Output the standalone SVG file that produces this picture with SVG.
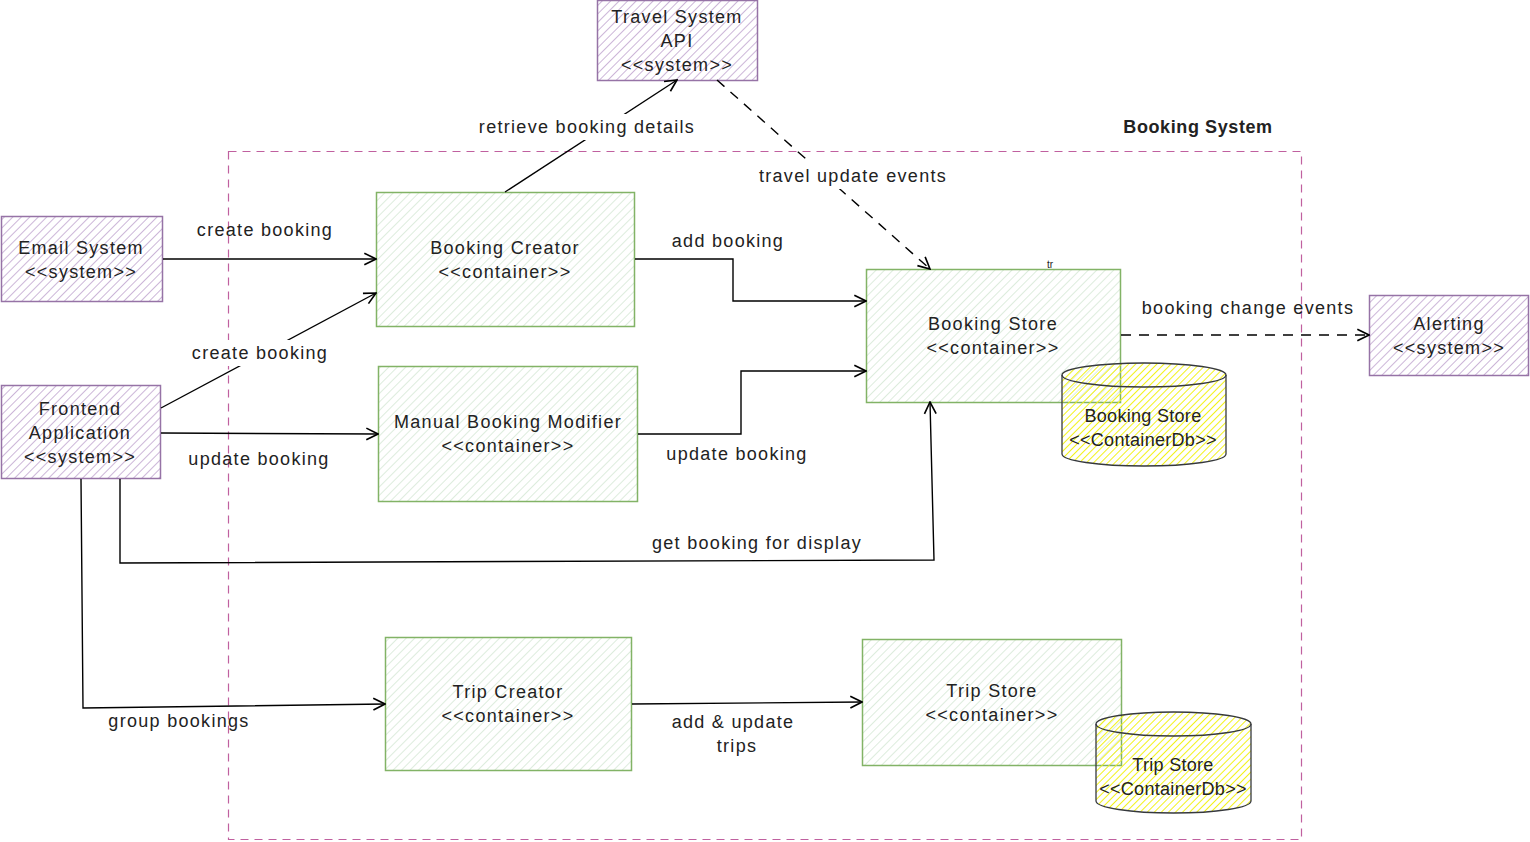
<svg xmlns="http://www.w3.org/2000/svg" width="1530" height="842" viewBox="0 0 1530 842">
<defs>
<pattern id="hp" width="6" height="6" patternUnits="userSpaceOnUse" patternTransform="rotate(45)"><line x1="0" y1="0" x2="0" y2="6" stroke="#c6aed4" stroke-width="1.8"/></pattern>
<pattern id="hg" width="6" height="6" patternUnits="userSpaceOnUse" patternTransform="rotate(45)"><line x1="0" y1="0" x2="0" y2="6" stroke="#d5e8d4" stroke-width="1.6"/></pattern>
<pattern id="hy" width="5" height="5" patternUnits="userSpaceOnUse" patternTransform="rotate(45)"><line x1="0" y1="0" x2="0" y2="5" stroke="#f2f21a" stroke-width="2"/></pattern>
<marker id="ah" viewBox="0 0 12 12" refX="11" refY="6" markerWidth="14" markerHeight="14" markerUnits="userSpaceOnUse" orient="auto"><path d="M1,1 L11,6 L1,11" fill="none" stroke="#000" stroke-width="1.4"/></marker>
</defs>
<style>
text{font-family:"Liberation Sans",Arial,sans-serif;font-size:18px;letter-spacing:1.3px;fill:#222;text-anchor:middle}
.sys rect{fill:url(#hp);stroke:#9673a6;stroke-width:1.5}
.cont rect{fill:url(#hg);stroke:#82b366;stroke-width:1.5}
.db path{fill:url(#hy);stroke:#36393d;stroke-width:1.3}
.db path.top{fill:none}
.db text{letter-spacing:0.3px}
.c{fill:none;stroke:#000;stroke-width:1.4;marker-end:url(#ah)}
.d{stroke-dasharray:10 8}
.bg{fill:#fff}
</style>
<rect x="0" y="0" width="1530" height="842" fill="#fff"/>

<g id="boundary">
<rect x="228.5" y="151.5" width="1073" height="688" fill="none" stroke="#c0609f" stroke-width="1.2" stroke-dasharray="8 6"/>
<text x="1198" y="133" style="font-weight:bold;letter-spacing:0.6px">Booking System</text>
</g>

<g id="travel-api" class="sys"><rect x="597.5" y="0.5" width="160" height="80"/>
<text x="677" y="23">Travel System</text><text x="677" y="47">API</text><text x="677" y="71">&lt;&lt;system&gt;&gt;</text></g>

<g id="email-system" class="sys"><rect x="1.5" y="216.5" width="161" height="85"/>
<text x="81" y="254">Email System</text><text x="81" y="278">&lt;&lt;system&gt;&gt;</text></g>

<g id="frontend-app" class="sys"><rect x="1.5" y="385.5" width="159" height="93"/>
<text x="80" y="415">Frontend</text><text x="80" y="439">Application</text><text x="80" y="463">&lt;&lt;system&gt;&gt;</text></g>

<g id="alerting" class="sys"><rect x="1369.5" y="295.5" width="159" height="80"/>
<text x="1449" y="330">Alerting</text><text x="1449" y="354">&lt;&lt;system&gt;&gt;</text></g>

<g id="booking-creator" class="cont"><rect x="376.5" y="192.5" width="258" height="134"/>
<text x="505" y="254">Booking Creator</text><text x="505" y="278">&lt;&lt;container&gt;&gt;</text></g>

<g id="manual-modifier" class="cont"><rect x="378.5" y="366.5" width="259" height="135"/>
<text x="508" y="428">Manual Booking Modifier</text><text x="508" y="452">&lt;&lt;container&gt;&gt;</text></g>

<g id="booking-store" class="cont"><rect x="866.5" y="269.5" width="254" height="133"/>
<text x="993" y="330">Booking Store</text><text x="993" y="354">&lt;&lt;container&gt;&gt;</text>
<text x="1050" y="268" style="font-size:10px;letter-spacing:0">tr</text></g>

<g id="booking-store-db" class="db">
<path d="M1062,375 A82,12 0 0,1 1226,375 L1226,454 A82,12 0 0,1 1062,454 Z"/>
<path class="top" d="M1062,375 A82,12 0 0,0 1226,375"/>
<text x="1143" y="422">Booking Store</text><text x="1143" y="446">&lt;&lt;ContainerDb&gt;&gt;</text></g>

<g id="trip-creator" class="cont"><rect x="385.5" y="637.5" width="246" height="133"/>
<text x="508" y="698">Trip Creator</text><text x="508" y="722">&lt;&lt;container&gt;&gt;</text></g>

<g id="trip-store" class="cont"><rect x="862.5" y="639.5" width="259" height="126"/>
<text x="992" y="697">Trip Store</text><text x="992" y="721">&lt;&lt;container&gt;&gt;</text></g>

<g id="trip-store-db" class="db">
<path d="M1096,724 A77.5,12 0 0,1 1251,724 L1251,801 A77.5,12 0 0,1 1096,801 Z"/>
<path class="top" d="M1096,724 A77.5,12 0 0,0 1251,724"/>
<text x="1173" y="771">Trip Store</text><text x="1173" y="795">&lt;&lt;ContainerDb&gt;&gt;</text></g>

<g id="connectors">
<path class="c" d="M163,259 L376,259"/>
<text x="265" y="236">create booking</text>

<path class="c" d="M161,408 L376,293"/>
<rect class="bg" x="186" y="340" width="148" height="26"/>
<text x="260" y="359">create booking</text>

<path class="c" d="M161,433 L378,434"/>
<text x="259" y="465">update booking</text>

<path class="c" d="M505,192 L677,80"/>
<rect class="bg" x="477" y="114" width="221" height="26"/>
<text x="587" y="133">retrieve booking details</text>

<path class="c d" d="M717,80 L930,269"/>
<rect class="bg" x="756" y="163" width="194" height="26"/>
<text x="853" y="182">travel update events</text>

<path class="c" d="M635,259 L733,259 L733,301 L866,301"/>
<text x="728" y="247">add booking</text>

<path class="c" d="M638,434 L741,434 L741,371 L866,371"/>
<text x="737" y="460">update booking</text>

<path class="c" d="M120,479 L120,563 L934,560 L930,402"/>
<text x="757" y="549">get booking for display</text>

<path class="c" d="M81,479 L83,708 L385,704"/>
<text x="179" y="727">group bookings</text>

<path class="c" d="M632,704 L862,702"/>
<text x="733" y="728">add &amp; update</text><text x="737" y="752">trips</text>

<path class="c d" d="M1121,335 L1369,335"/>
<text x="1248" y="314">booking change events</text>
</g>
</svg>
